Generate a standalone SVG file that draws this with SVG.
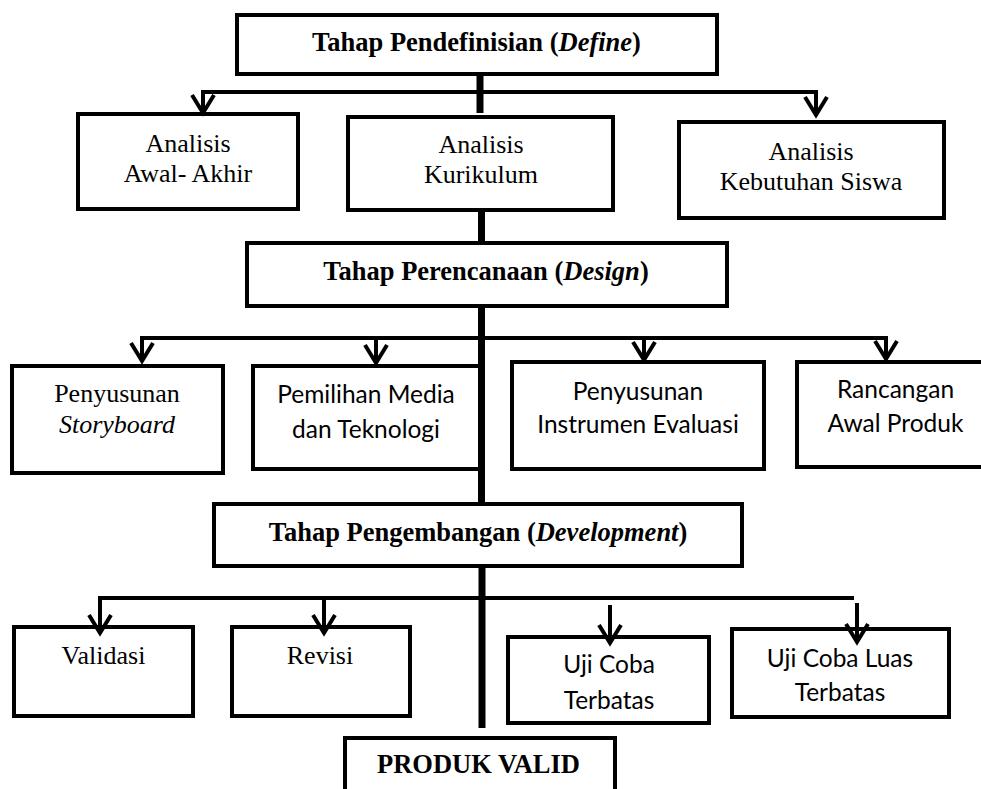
<svg xmlns="http://www.w3.org/2000/svg" width="981" height="789" viewBox="0 0 981 789">
<style>
.box{fill:#fff;stroke:#000;stroke-width:4}
.ln{fill:none;stroke:#000;stroke-width:4}
.main{fill:none;stroke:#000;stroke-width:7}
.ar{fill:none;stroke:#000;stroke-width:4;marker-end:url(#chev)}
text.t{font-family:"Liberation Serif","Times New Roman",serif;font-size:26px;font-weight:normal;fill:#000;text-anchor:middle}
text.b{font-family:"Liberation Serif","Times New Roman",serif;font-size:26.5px;font-weight:bold;fill:#000;text-anchor:middle}
text.s{font-family:Lato,"Open Sans",sans-serif;font-size:24.5px;fill:#000;text-anchor:middle}
</style>
<defs>
<marker id="chev" markerUnits="userSpaceOnUse" viewBox="-22 -14 26 28" markerWidth="26" markerHeight="28" refX="0" refY="0" orient="auto">
<path d="M-18,-11 L0,0 L-18,11" fill="none" stroke="#000" stroke-width="4"/>
</marker>
</defs>
<rect width="981" height="789" fill="#fff"/>
<g id="define">
<rect class="box" x="237" y="15" width="480" height="59"/>
<text class="b" x="476.5" y="51">Tahap Pendefinisian (<tspan font-style="italic">Define</tspan>)</text>
</g>
<g id="awal-akhir">
<rect class="box" x="78" y="114" width="220" height="95"/>
<text class="t" x="188" y="152">Analisis</text>
<text class="t" x="188" y="182">Awal- Akhir</text>
</g>
<g id="kurikulum">
<rect class="box" x="348" y="117" width="265" height="93"/>
<text class="t" x="481" y="153">Analisis</text>
<text class="t" x="481" y="183">Kurikulum</text>
</g>
<g id="kebutuhan">
<rect class="box" x="679" y="122" width="265" height="96"/>
<text class="t" x="811" y="160">Analisis</text>
<text class="t" x="811" y="190">Kebutuhan Siswa</text>
</g>
<g id="design">
<rect class="box" x="247" y="243" width="480" height="63"/>
<text class="b" x="486" y="280">Tahap Perencanaan (<tspan font-style="italic">Design</tspan>)</text>
</g>
<g id="storyboard">
<rect class="box" x="12" y="366" width="211" height="107"/>
<text class="t" x="117" y="402">Penyusunan</text>
<text class="t" x="117" y="433" font-style="italic">Storyboard</text>
</g>
<g id="media">
<rect class="box" x="253" y="366" width="227" height="103"/>
<text class="s" x="366" y="403">Pemilihan Media</text>
<text class="s" x="366" y="438">dan Teknologi</text>
</g>
<g id="instrumen">
<rect class="box" x="512" y="362" width="252" height="107"/>
<text class="s" x="638" y="400">Penyusunan</text>
<text class="s" x="638" y="433">Instrumen Evaluasi</text>
</g>
<g id="rancangan">
<rect class="box" x="797" y="362" width="197" height="105"/>
<text class="s" x="895.5" y="398">Rancangan</text>
<text class="s" x="895.5" y="432">Awal Produk</text>
</g>
<g id="development">
<rect class="box" x="214" y="504" width="528" height="62"/>
<text class="b" x="478" y="541">Tahap Pengembangan (<tspan font-style="italic">Development</tspan>)</text>
</g>
<g id="validasi">
<rect class="box" x="14" y="627" width="179" height="89"/>
<text class="t" x="103.5" y="664">Validasi</text>
</g>
<g id="revisi">
<rect class="box" x="232" y="627" width="178" height="89"/>
<text class="t" x="320" y="664">Revisi</text>
</g>
<g id="uji-terbatas">
<rect class="box" x="508" y="637" width="201" height="86"/>
<text class="s" x="609" y="673">Uji Coba</text>
<text class="s" x="609" y="709">Terbatas</text>
</g>
<g id="uji-luas">
<rect class="box" x="732" y="629" width="217" height="88"/>
<text class="s" x="840" y="667">Uji Coba Luas</text>
<text class="s" x="840" y="701">Terbatas</text>
</g>
<g id="produk">
<rect class="box" x="345" y="738" width="270" height="70"/>
<text class="b" x="478.5" y="773">PRODUK VALID</text>
</g>
<g id="connectors">
<line class="main" x1="480" y1="76" x2="480" y2="113"/>
<line class="main" x1="481.5" y1="212" x2="481.5" y2="241"/>
<line class="main" x1="481.5" y1="308" x2="481.5" y2="502"/>
<line class="main" x1="482" y1="568" x2="482" y2="728"/>
<line class="ln" x1="201" y1="92" x2="818" y2="92"/>
<line class="ar" x1="203" y1="92" x2="203" y2="113"/>
<line class="ar" x1="816" y1="92" x2="816" y2="115"/>
<line class="ln" x1="140" y1="338" x2="888" y2="338"/>
<line class="ar" x1="142" y1="338" x2="142" y2="361"/>
<line class="ar" x1="376" y1="338" x2="376" y2="363"/>
<line class="ar" x1="644" y1="338" x2="644" y2="360"/>
<line class="ar" x1="886" y1="338" x2="886" y2="359"/>
<line class="ln" x1="98" y1="598" x2="854" y2="598"/>
<line class="ar" x1="100" y1="598" x2="100" y2="633"/>
<line class="ar" x1="324" y1="598" x2="324" y2="633"/>
<line class="ar" x1="610" y1="605" x2="610" y2="643"/>
<line class="ar" x1="857" y1="603" x2="857" y2="642"/>
</g>
</svg>
